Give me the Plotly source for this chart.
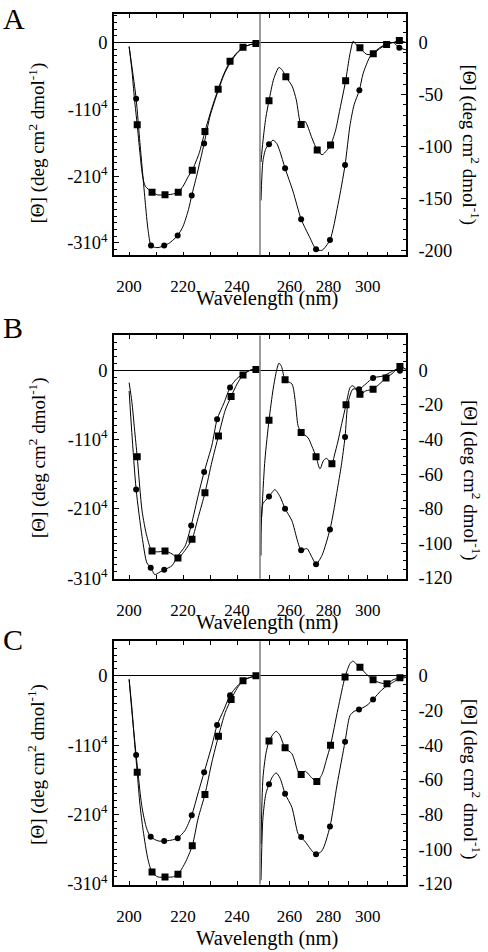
import plotly.graph_objects as go

FONT = "Liberation Serif, Times New Roman, DejaVu Serif, serif"

# ---------------- Panel A ----------------
# far-UV (units of 10^4 deg cm2 dmol-1)
A_far_sq_x = [200, 201, 202, 203, 204, 205, 206, 208.5, 210.5, 213.3, 216, 218.2, 220, 222, 223.4, 226, 228.1, 230.5, 233, 235, 237.4, 240, 242.2, 245, 247, 248.5]
A_far_sq_y = [-0.06, -0.4, -0.85, -1.23, -1.65, -2.0, -2.15, -2.24, -2.28, -2.28, -2.27, -2.24, -2.15, -2.0, -1.91, -1.65, -1.33, -1.0, -0.70, -0.48, -0.28, -0.15, -0.07, -0.03, -0.015, -0.01]
A_far_sq_mx = [203, 208.5, 213.3, 218.2, 223.4, 228.1, 233, 237.4, 242.2, 247]
A_far_sq_my = [-1.23, -2.24, -2.28, -2.24, -1.91, -1.33, -0.70, -0.28, -0.07, -0.015]
A_far_ci_x = [200, 201, 202.6, 204, 205, 206, 207, 208.1, 209, 210.7, 213, 215, 217, 218, 220, 222, 223.2, 225, 227.8, 230, 233, 235.5, 238, 240, 242.5, 245, 248.5]
A_far_ci_y = [-0.06, -0.35, -0.84, -1.5, -1.95, -2.4, -2.8, -3.04, -3.06, -3.07, -3.04, -3.0, -2.93, -2.89, -2.75, -2.5, -2.29, -2.0, -1.51, -1.1, -0.72, -0.45, -0.27, -0.16, -0.07, -0.03, -0.01]
A_far_ci_mx = [202.6, 208.1, 213, 218, 223.2, 227.8]
A_far_ci_my = [-0.84, -3.04, -3.04, -2.89, -2.29, -1.51]
# near-UV (deg cm2 dmol-1)
A_near_sq_x = [245.5, 246.5, 248, 249.6, 252, 254.7, 256.5, 258.2, 261.4, 263.5, 266, 268, 271.5, 274.2, 276.7, 279, 281, 283.5, 285.8, 288.7, 290.8, 292.6, 294, 296, 299.4, 302.8, 306, 309.6, 313, 316.1, 319.5]
A_near_sq_y = [-115, -95, -72, -56, -35, -24, -27, -33, -42, -55, -79, -76, -92, -103.5, -108, -104, -98.7, -85, -64, -36.8, -12, 1.3, -2, -5, -11.4, -10.8, -6, -1.9, 0, 1.9, 0]
A_near_sq_mx = [249.6, 258.2, 266, 274.2, 281, 288.7, 296, 302.8, 309.6, 316.1]
A_near_sq_my = [-56, -33, -79, -103.5, -98.7, -36.8, -5, -10.8, -1.9, 1.9]
A_near_ci_x = [245.5, 246.5, 248, 249.6, 251.6, 253.5, 255.2, 257.8, 261.8, 266, 270.5, 273.6, 276.6, 280.7, 284.8, 288.4, 290.9, 293, 295.7, 297.6, 301, 303, 306, 310, 313, 316.1, 319.5]
A_near_ci_y = [-152, -114, -102, -98, -94, -97, -105, -121, -143, -170, -188, -199, -200, -190, -156, -118, -80, -60, -46, -30, -14, -10, -5, -1, 0, -5, -7]
A_near_ci_mx = [249.6, 257.8, 266, 273.6, 280.7, 288.4, 295.7, 316.1]
A_near_ci_my = [-98, -121, -170, -199, -190, -118, -46, -5]

# ---------------- Panel B ----------------
B_far_sq_x = [200, 201, 202, 203, 204.8, 206.6, 208.5, 211, 213.3, 215.9, 218.1, 220.7, 223.3, 225.7, 228.1, 230.7, 233.1, 235.6, 237.8, 240, 242.2, 245, 247, 248.5]
B_far_sq_y = [-0.18, -0.45, -0.85, -1.25, -2.03, -2.4, -2.61, -2.62, -2.61, -2.65, -2.71, -2.6, -2.44, -2.11, -1.77, -1.32, -0.95, -0.58, -0.38, -0.2, -0.07, 0.0, 0.01, 0.0]
B_far_sq_mx = [203, 208.5, 213.3, 218.1, 223.3, 228.1, 233.1, 237.8, 242.2, 247]
B_far_sq_my = [-1.25, -2.61, -2.61, -2.71, -2.44, -1.77, -0.95, -0.38, -0.07, 0.01]
B_far_ci_x = [200, 201, 202.6, 204.8, 206.6, 208, 209.6, 211, 213, 215.9, 218, 220.7, 223, 225.7, 227.8, 230.7, 232.6, 235.2, 237.4, 240, 242.5, 245, 248.5]
B_far_ci_y = [-0.3, -0.9, -1.72, -2.4, -2.78, -2.85, -2.95, -2.92, -2.88, -2.82, -2.68, -2.54, -2.24, -1.79, -1.47, -1.08, -0.71, -0.47, -0.25, -0.12, -0.05, 0.0, 0.0]
B_far_ci_mx = [202.6, 208, 213, 223, 227.8, 232.6, 237.4]
B_far_ci_my = [-1.72, -2.85, -2.88, -2.24, -1.47, -0.71, -0.25]
B_near_sq_x = [245.8, 247.5, 249.6, 251.7, 253.5, 254.7, 256, 257.8, 261.3, 263, 264.4, 266, 269.5, 271.5, 273.6, 275.6, 277.5, 279, 281.7, 283, 284.8, 286.5, 288.9, 291, 292.4, 294, 296, 299, 302.7, 306, 309.3, 312.5, 316.4, 319.5]
B_near_sq_y = [-85, -52, -29, -11, 0, 4, 2, -5.6, -8, -18, -32, -36, -39, -44, -50, -57, -52, -51, -54, -49, -41, -32, -20, -10, -9, -11, -14, -12, -11, -8, -4.5, -2, 2, 0.5]
B_near_sq_mx = [249.6, 257.8, 266, 273.6, 281.7, 288.9, 296, 302.7, 309.3, 316.4]
B_near_sq_my = [-29, -5.6, -36, -50, -54, -20, -14, -11, -4.5, 2]
B_near_ci_x = [245.5, 246.5, 248, 249.6, 252.6, 255.2, 257.8, 261.3, 264, 266, 268.9, 271.5, 273.6, 276.6, 280.7, 282.5, 284.3, 286.5, 288.4, 289.9, 292.4, 295.5, 299, 302.7, 307.8, 312, 315, 316.4, 319.5]
B_near_ci_y = [-107, -77, -75, -73, -69, -73, -80, -87, -98, -104, -103, -108, -112, -107, -92, -82, -70, -55, -38.6, -19, -11, -11, -8, -4.5, -3.4, -1, 0.5, -0.4, 0]
B_near_ci_mx = [249.6, 257.8, 266, 273.6, 280.7, 288.4, 295.5, 302.7, 316.4]
B_near_ci_my = [-73, -80, -104, -112, -92, -38.6, -11, -4.5, -0.4]

# ---------------- Panel C ----------------
C_far_sq_x = [200, 201, 202, 203, 204, 205.2, 207, 208.5, 210.7, 213.3, 216, 218.1, 220.7, 223.4, 225.6, 228.1, 230.7, 233.1, 235.6, 237.8, 240, 242.2, 245, 247, 248.5]
C_far_sq_y = [-0.05, -0.45, -0.95, -1.39, -1.85, -2.23, -2.65, -2.83, -2.9, -2.9, -2.9, -2.86, -2.7, -2.45, -2.05, -1.71, -1.24, -0.87, -0.53, -0.34, -0.18, -0.07, -0.02, 0.0, 0.0]
C_far_sq_mx = [203, 208.5, 213.3, 218.1, 223.4, 228.1, 233.1, 237.8, 242.2, 247]
C_far_sq_my = [-1.39, -2.83, -2.9, -2.86, -2.45, -1.71, -0.87, -0.34, -0.07, 0.0]
C_far_ci_x = [200, 201, 202.6, 204.8, 206.5, 208, 210.7, 213, 215.5, 218, 220.7, 223.2, 225.7, 227.8, 230.7, 232.6, 235.2, 237.4, 240, 242.5, 245, 248.5]
C_far_ci_y = [-0.05, -0.5, -1.14, -1.9, -2.2, -2.32, -2.38, -2.38, -2.37, -2.34, -2.23, -2.01, -1.67, -1.39, -1.0, -0.71, -0.48, -0.28, -0.15, -0.06, -0.02, 0.0]
C_far_ci_mx = [202.6, 208, 213, 218, 223.2, 227.8, 232.6, 237.4]
C_far_ci_my = [-1.14, -2.32, -2.38, -2.34, -2.01, -1.39, -0.71, -0.28]
C_near_sq_x = [245.5, 246.5, 248, 249.6, 251.5, 253.2, 255, 257.8, 261.3, 264.4, 266, 268, 271.5, 274, 276.6, 279, 281, 284.8, 288.4, 290.9, 292.4, 294, 296, 299.6, 302.7, 306.2, 309.8, 312.9, 316.4, 319.5]
C_near_sq_y = [-97, -59, -45, -37.6, -34, -32, -34, -41.5, -45, -55, -57, -55, -59, -61, -57, -48, -40, -19, -0.6, 7, 8.5, 7, 5, 0.6, -2.3, -4, -4.5, -2.3, -1.1, 0]
C_near_sq_mx = [249.6, 257.8, 266, 274, 281, 288.4, 296, 302.7, 309.8, 316.4]
C_near_sq_my = [-37.6, -41.5, -57, -61, -40, -0.6, 5, -2.3, -4.5, -1.1]
C_near_ci_x = [245.5, 246.5, 248, 249.6, 251.5, 253.2, 255.2, 257.8, 261.3, 264.4, 266, 268.9, 271.5, 273.6, 276.6, 280.7, 284.3, 288.4, 290.9, 293, 295.5, 299.6, 302.7, 307.2, 309.8, 312.5, 315, 317, 319.5]
C_near_ci_y = [-118, -82, -68, -62.6, -58, -56, -59, -68, -76, -91, -93, -97, -101, -103, -101, -87, -63, -38, -23, -20.5, -19.5, -17, -13.6, -8, -5.8, -4, -2.3, -1.5, -1]
C_near_ci_mx = [249.6, 257.8, 266, 273.6, 280.7, 288.4, 295.5, 302.7]
C_near_ci_my = [-62.6, -68, -93, -103, -87, -38, -19.5, -13.6]

# ---------------- Axis labels ----------------
far_x_ticks = [200, 210, 220, 230, 240]
far_x_text = ["200", "", "220", "", "240"]
near_x_ticks = [250, 260, 270, 280, 290, 300, 310]
near_x_text = ["", "260", "", "280", "", "300", ""]
far_y_ticks = [0, -1, -2, -3]
far_y_text = ["0", "-110<sup>4</sup>", "-210<sup>4</sup>", "-310<sup>4</sup>"]
A_near_y_ticks = [0, -50, -100, -150, -200]
A_near_y_text = ["0", "-50", "-100", "-150", "-200"]
BC_near_y_ticks = [0, -20, -40, -60, -80, -100, -120]
BC_near_y_text = ["0", "-20", "-40", "-60", "-80", "-100", "-120"]
panel_letters = ["A", "B", "C"]
x_title = "Wavelength (nm)"
y_title = "[Θ] (deg cm<sup>2</sup> dmol<sup>-1</sup>)"

W, H = 488, 952
XL = [114 / W, 260 / W]
XR = [260 / W, 406 / W]

panels = [
    dict(far=(A_far_sq_x, A_far_sq_y, A_far_sq_mx, A_far_sq_my, A_far_ci_x, A_far_ci_y, A_far_ci_mx, A_far_ci_my),
         near=(A_near_sq_x, A_near_sq_y, A_near_sq_mx, A_near_sq_my, A_near_ci_x, A_near_ci_y, A_near_ci_mx, A_near_ci_my),
         top=14, bot=258, yl=[-3.185, 0.43], yr=[-204.8, 27.6],
         yrt=(A_near_y_ticks, A_near_y_text), yrminor=10,
         letter_y=0, xt_y=302, ylt_y=145, yrt_y=146),
    dict(far=(B_far_sq_x, B_far_sq_y, B_far_sq_mx, B_far_sq_my, B_far_ci_x, B_far_ci_y, B_far_ci_mx, B_far_ci_my),
         near=(B_near_sq_x, B_near_sq_y, B_near_sq_mx, B_near_sq_my, B_near_ci_x, B_near_ci_y, B_near_ci_mx, B_near_ci_my),
         top=339, bot=585, yl=[-3.01, 0.5], yr=[-120.5, 20],
         yrt=(BC_near_y_ticks, BC_near_y_text), yrminor=5,
         letter_y=312, xt_y=629, ylt_y=463, yrt_y=485),
    dict(far=(C_far_sq_x, C_far_sq_y, C_far_sq_mx, C_far_sq_my, C_far_ci_x, C_far_ci_y, C_far_ci_mx, C_far_ci_my),
         near=(C_near_sq_x, C_near_sq_y, C_near_sq_mx, C_near_sq_my, C_near_ci_x, C_near_ci_y, C_near_ci_mx, C_near_ci_my),
         top=648, bot=894, yl=[-3.01, 0.5], yr=[-120.5, 20],
         yrt=(BC_near_y_ticks, BC_near_y_text), yrminor=5,
         letter_y=628, xt_y=948, ylt_y=773, yrt_y=787),
]

fig = go.Figure()
layout = {}
shapes = []
annotations = []


def aname(kind, n):
    return f"{kind}axis" if n == 1 else f"{kind}axis{n}"


def aref(kind, n):
    return kind if n == 1 else f"{kind}{n}"


def add_series(data, xr, yr):
    sx, sy, smx, smy, cx, cy, cmx, cmy = data
    line = dict(color="black", width=1, shape="spline", smoothing=0.7)
    fig.add_trace(go.Scatter(x=sx, y=sy, mode="lines", line=line, xaxis=xr, yaxis=yr, showlegend=False, hoverinfo="skip"))
    fig.add_trace(go.Scatter(x=cx, y=cy, mode="lines", line=line, xaxis=xr, yaxis=yr, showlegend=False, hoverinfo="skip"))
    fig.add_trace(go.Scatter(x=cmx, y=cmy, mode="markers", marker=dict(symbol="circle", size=6, color="black"),
                             xaxis=xr, yaxis=yr, showlegend=False))
    fig.add_trace(go.Scatter(x=smx, y=smy, mode="markers", marker=dict(symbol="square", size=7, color="black"),
                             xaxis=xr, yaxis=yr, showlegend=False))


xtickfont = dict(family=FONT, size=17, color="black")
ytickfont = dict(family=FONT, size=18.5, color="black")
for i, p in enumerate(panels):
    nl, nr = 2 * i + 1, 2 * i + 2
    dom = [1 - p["bot"] / H, 1 - p["top"] / H]
    add_series(p["far"], aref("x", nl), aref("y", nl))
    add_series(p["near"], aref("x", nr), aref("y", nr))
    common_x = dict(ticks="inside", ticklen=4, tickwidth=1, tickcolor="black", showline=True, linecolor="black",
                    linewidth=1.5, mirror="ticks", showgrid=False, zeroline=False, tickfont=xtickfont,
                    tickmode="array", ticklabelstandoff=15, fixedrange=True)
    layout[aname("x", nl)] = dict(common_x, domain=XL, anchor=aref("y", nl), range=[194.4, 248.5],
                                  tickvals=far_x_ticks, ticktext=far_x_text)
    layout[aname("x", nr)] = dict(common_x, domain=XR, anchor=aref("y", nr), range=[245, 319.5],
                                  tickvals=near_x_ticks, ticktext=near_x_text)
    common_y = dict(ticks="inside", ticklen=5, tickwidth=1, tickcolor="black", showline=True, linecolor="black",
                    linewidth=1.5, showgrid=False, zeroline=True, zerolinecolor="black", zerolinewidth=1,
                    tickfont=ytickfont, tickmode="array", domain=dom, fixedrange=True)
    layout[aname("y", nl)] = dict(common_y, anchor=aref("x", nl), side="left", range=p["yl"],
                                  tickvals=far_y_ticks, ticktext=far_y_text, ticklabelstandoff=1,
                                  minor=dict(tickmode="linear", tick0=0, dtick=0.1, ticks="inside", ticklen=3,
                                             tickcolor="black"))
    layout[aname("y", nr)] = dict(common_y, anchor=aref("x", nr), side="right", range=p["yr"],
                                  tickvals=p["yrt"][0], ticktext=p["yrt"][1], ticklabelstandoff=7,
                                  minor=dict(tickmode="linear", tick0=0, dtick=p["yrminor"], ticks="inside",
                                             ticklen=3, tickcolor="black"))
    # gray divider between far-UV and near-UV parts
    shapes.append(dict(type="line", xref=f"{aref('x', nr)} domain", yref=f"{aref('y', nr)} domain",
                       x0=0, x1=0, y0=0, y1=1, line=dict(color="#7a7a7a", width=1.5)))
    # panel letter
    annotations.append(dict(text=panel_letters[i], xref="paper", yref="paper", x=1 / W, y=1 - p["letter_y"] / H,
                            xanchor="left", yanchor="top", showarrow=False,
                            font=dict(family=FONT, size=30, color="black")))
    # x title
    annotations.append(dict(text=x_title, xref="paper", yref="paper", x=267 / W, y=1 - p["xt_y"] / H,
                            xanchor="center", yanchor="middle", showarrow=False,
                            font=dict(family=FONT, size=20.5, color="black")))
    # y titles
    annotations.append(dict(text=y_title, xref="paper", yref="paper", x=37 / W, y=1 - p["ylt_y"] / H,
                            xanchor="center", yanchor="middle", textangle=-90, showarrow=False,
                            font=dict(family=FONT, size=19, color="black")))
    annotations.append(dict(text=y_title, xref="paper", yref="paper", x=471 / W, y=1 - p["yrt_y"] / H,
                            xanchor="center", yanchor="middle", textangle=90, showarrow=False,
                            font=dict(family=FONT, size=19, color="black")))

fig.update_layout(**layout)
fig.update_layout(width=W, height=H, margin=dict(l=0, r=0, t=0, b=0), plot_bgcolor="white",
                  paper_bgcolor="white", shapes=shapes, annotations=annotations, showlegend=False,
                  font=dict(family=FONT, color="black"))
fig.write_html("out.html", config={"displayModeBar": False},
               post_script="document.body.style.margin='0';")
